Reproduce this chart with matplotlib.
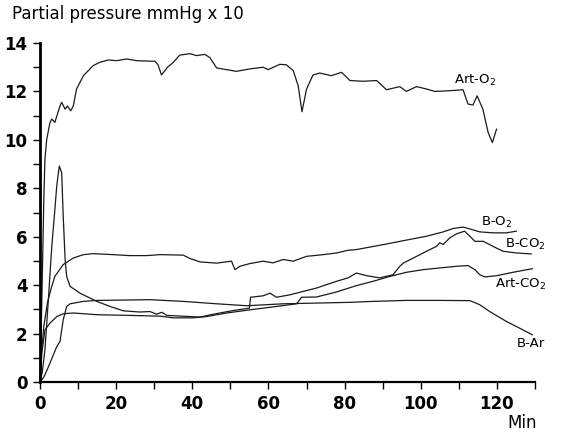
import matplotlib
matplotlib.use("Agg")
import matplotlib.pyplot as plt
from matplotlib.ticker import MultipleLocator

plt.rcParams["font.family"] = ["DejaVu Sans"]
plt.rcParams["mathtext.default"] = "regular"

# traces (min, mmHg x 10)
art_o2_t = [0, 0.5, 1.0, 1.3, 1.75, 2.6, 3.1, 3.9, 5.25, 5.7, 6.6, 7.2, 8.05, 8.75, 9.6, 11.4,
            14.0, 15.7, 17.9, 20.1, 22.75, 25.4, 28.9, 30.2, 31.0, 31.9, 33.5, 35, 36.7, 39.4,
            41.1, 43.3, 44.6, 46.4, 51.6, 55.1, 58.6, 59.9, 63, 64.7, 66.5, 67.8, 68.8, 70,
            71.7, 73.5, 76.5, 79.2, 81.4, 84.9, 88.4, 91, 94.5, 96.2, 98.9, 101.5, 103.7,
            107.6, 111.1, 112.4, 113.7, 114.8, 116.3, 117.7, 118.8, 119.9]
art_o2_v = [0, 3.5, 7.5, 9.2, 10.0, 10.7, 10.86, 10.72, 11.4, 11.55, 11.27, 11.4, 11.2, 11.4,
            12.1, 12.65, 13.07, 13.2, 13.3, 13.27, 13.34, 13.27, 13.25, 13.25, 13.1, 12.68,
            13.0, 13.2, 13.5, 13.56, 13.48, 13.53, 13.4, 12.97, 12.83, 12.93, 13.0, 12.9,
            13.12, 13.1, 12.86, 12.24, 11.16, 12.1, 12.68, 12.76, 12.65, 12.79, 12.45, 12.42,
            12.45, 12.07, 12.2, 12.0, 12.2, 12.1, 12.0, 12.03, 12.07, 11.48, 11.44, 11.82,
            11.27, 10.3, 9.89, 10.44]

b_o2_t = [0, 0.4, 1.0, 2.0, 3.0, 3.9, 6.1, 8.75, 11.4, 14.0, 19.2, 23.6, 28.0, 31.5, 37.6,
          39.4, 42, 46.4, 50.3, 51.2, 52.5, 55.1, 58.6, 61.2, 63.9, 66.5, 70, 74.4, 77.9,
          80.9, 83.1, 91, 96.2, 101.5, 105.9, 108.5, 111.1, 112.9, 115.5, 119, 122.5, 125.1]
b_o2_v = [0, 1.2, 2.3, 3.3, 3.9, 4.36, 4.85, 5.12, 5.26, 5.3, 5.26, 5.22, 5.22, 5.26, 5.24,
          5.1, 4.96, 4.91, 4.99, 4.64, 4.78, 4.89, 4.99, 4.92, 5.06, 4.99, 5.19, 5.26, 5.33,
          5.44, 5.47, 5.7, 5.86, 6.02, 6.2, 6.34, 6.4, 6.32, 6.2, 6.16, 6.16, 6.23]

b_co2_t = [0, 0.6, 1.3, 2.2, 3.1, 3.9, 4.4, 5.07, 5.7, 6.1, 6.6, 7.0, 7.9, 10.5, 14.9, 18.4,
           21.9, 26.2, 28.9, 30.6, 32.0, 33.3, 38.5, 42, 45.5, 50.7, 55.0, 55.3, 58.6, 60.4,
           62.1, 65.6, 69.1, 72.6, 77.9, 80.9, 83.1, 85.8, 89.2, 92.7, 94.5, 95.4, 98.9,
           102.4, 104.1, 105, 105.9, 107.6, 109.4, 111.5, 112.9, 114.2, 116.4, 119, 121.6,
           125.1, 129]
b_co2_v = [0, 0.4, 1.33, 3.4, 5.6, 7.1, 8.1, 8.92, 8.64, 6.85, 5.06, 4.36, 3.95, 3.67, 3.33,
           3.12, 2.94, 2.89, 2.91, 2.8, 2.88, 2.75, 2.71, 2.68, 2.8, 2.95, 3.05, 3.5, 3.56,
           3.67, 3.5, 3.6, 3.74, 3.88, 4.16, 4.3, 4.5, 4.39, 4.3, 4.43, 4.78, 4.91, 5.19,
           5.47, 5.6, 5.75, 5.68, 5.95, 6.12, 6.23, 6.02, 5.81, 5.81, 5.6, 5.4, 5.33, 5.29]

art_co2_t = [0, 0.5, 1.3, 2.6, 4.4, 6.1, 8.75, 14.9, 23.6, 31.5, 35, 40, 43.7, 49, 55.1,
             62.1, 67.4, 68.7, 72.6, 77.9, 83.1, 87.5, 91.9, 96.2, 100.6, 105, 109.4, 112.4,
             114.2, 115.5, 116.8, 119.9, 124.2, 129.3]
art_co2_v = [0, 1.2, 2.15, 2.43, 2.7, 2.82, 2.85, 2.78, 2.75, 2.72, 2.65, 2.65, 2.7, 2.85,
             2.98, 3.12, 3.23, 3.5, 3.51, 3.72, 3.98, 4.16, 4.36, 4.53, 4.64, 4.71, 4.78, 4.81,
             4.64, 4.43, 4.34, 4.39, 4.53, 4.68]

b_ar_t = [0, 1, 2, 2.6, 4.4, 5.25, 6.1, 7.0, 7.9, 11.4, 15, 20, 28.9, 37.6, 46.4, 54.3, 63.9,
          72.6, 81.4, 87.5, 96.2, 105, 112.9, 115.5, 118.1, 122.5, 126, 129.3]
b_ar_v = [0, 0.2, 0.55, 0.77, 1.46, 1.67, 2.57, 3.12, 3.23, 3.33, 3.37, 3.38, 3.4, 3.33, 3.23,
          3.15, 3.23, 3.26, 3.29, 3.33, 3.37, 3.37, 3.36, 3.19, 2.91, 2.5, 2.22, 1.95]

labels = ["Art-O$_2$", "B-O$_2$", "B-CO$_2$", "Art-CO$_2$", "B-Ar"]
label_pos = [(108.7, 12.47), (115.9, 6.58), (122.0, 5.68), (119.4, 4.02), (125.3, 1.57)]

fig = plt.figure(figsize=(5.64, 4.34), dpi=100)
ax = fig.add_axes([0.0709, 0.1198, 0.8777, 0.7811])

for t, v in [(art_o2_t, art_o2_v), (b_o2_t, b_o2_v), (b_co2_t, b_co2_v),
             (art_co2_t, art_co2_v), (b_ar_t, b_ar_v)]:
    ax.plot(t, v, color="#1a1a1a", lw=0.9, clip_on=False)

for txt, (x, y) in zip(labels, label_pos):
    ax.text(x, y, txt, fontsize=9.5, ha="left", va="center", color="black")

ax.set_xlim(0, 130)
ax.set_ylim(0, 14)
ax.xaxis.set_major_locator(MultipleLocator(20))
ax.xaxis.set_minor_locator(MultipleLocator(10))
ax.yaxis.set_major_locator(MultipleLocator(2))
ax.yaxis.set_minor_locator(MultipleLocator(1))

for s in ["top", "right"]:
    ax.spines[s].set_visible(False)
ax.spines["left"].set_linewidth(2.0)
ax.spines["bottom"].set_linewidth(1.6)

ax.tick_params(which="both", direction="out", length=5, width=1.0, colors="black")
ax.tick_params(axis="both", labelsize=12, pad=4)
for lab in ax.get_xticklabels() + ax.get_yticklabels():
    lab.set_fontweight("bold")

ax.text(122.7, -1.69, "Min", fontsize=12, ha="left", va="center", clip_on=False)
fig.text(0.021, 0.967, "Partial pressure mmHg x 10", fontsize=12, ha="left", va="center")

fig.savefig("out.png", dpi=100)
